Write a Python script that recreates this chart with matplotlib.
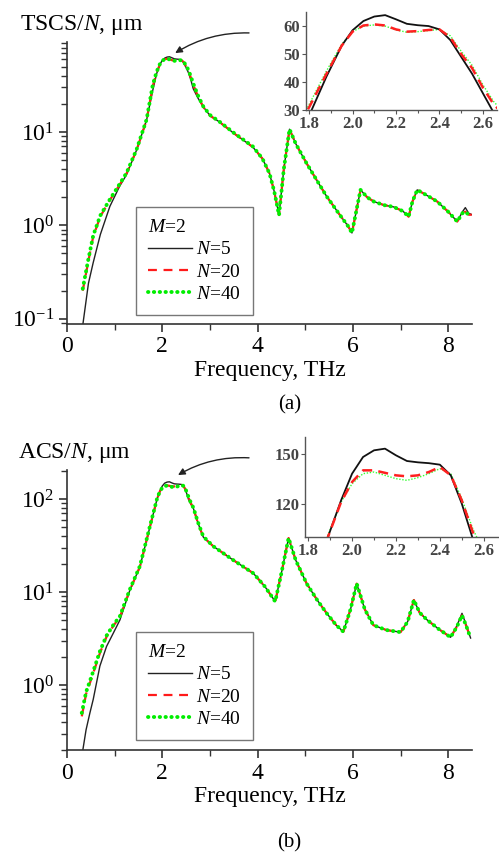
import matplotlib
matplotlib.use('Agg')
import matplotlib.pyplot as plt
from matplotlib.ticker import MultipleLocator, LogLocator, NullFormatter, FixedLocator

plt.rcParams['font.family'] = ['Liberation Serif', 'DejaVu Serif']
plt.rcParams['mathtext.fontset'] = 'custom'
plt.rcParams['mathtext.rm'] = 'Liberation Serif'
plt.rcParams['mathtext.it'] = 'Liberation Serif:italic'

# ---- panel (a): TSCS/N ----
freq_a = [0.33, 0.45, 0.55, 0.7, 0.9, 1.1, 1.25, 1.46, 1.67, 1.8, 1.88, 1.95, 2.0, 2.05,
          2.1, 2.15, 2.2, 2.25, 2.3, 2.35, 2.4, 2.45, 2.5, 2.55, 2.6, 2.65, 2.75, 2.86,
          3.0, 3.2, 3.5, 3.9, 4.1, 4.25, 4.35, 4.45, 4.55, 4.67, 4.8, 5.03, 5.25, 5.45,
          5.7, 5.9, 5.98, 6.08, 6.16, 6.3, 6.44, 6.65, 6.85, 7.05, 7.17, 7.25, 7.35,
          7.55, 7.77, 8.0, 8.19, 8.3, 8.36, 8.43, 8.5]
tscs_n5 = [0.085, 0.24, 0.40, 0.8, 1.6, 2.6, 3.5, 6.4, 13.4, 28, 42, 53, 58.5, 61.8,
           63.4, 63.9, 62.4, 60.8, 60.3, 60.0, 58.8, 55, 49, 43, 36, 29, 23, 18.6,
           15, 12.8, 9.7, 6.9, 5.2, 3.6, 2.3, 1.29, 4.0, 10.7, 7.5, 4.6, 3.0, 2.04,
           1.35, 0.98, 0.83, 1.5, 2.4, 2.0, 1.8, 1.65, 1.58, 1.42, 1.24, 1.8, 2.4,
           2.1, 1.8, 1.4, 1.1, 1.4, 1.55, 1.35, 1.3]
tscs_n20 = [0.20, 0.42, 0.76, 1.25, 1.87, 2.7, 3.6, 6.4, 13.4, 31, 43, 53, 58, 60.2,
            60.6, 60.2, 58.8, 58.0, 58.2, 58.6, 58.8, 56, 50, 45, 38, 32, 24, 18.6,
            15, 12.8, 9.7, 6.9, 5.2, 3.6, 2.3, 1.29, 4.0, 10.7, 7.5, 4.6, 3.0, 2.04,
            1.35, 0.98, 0.83, 1.5, 2.4, 2.0, 1.8, 1.65, 1.58, 1.42, 1.24, 1.8, 2.4,
            2.1, 1.8, 1.4, 1.1, 1.35, 1.4, 1.3, 1.3]
tscs_n40 = [0.21, 0.44, 0.78, 1.28, 1.9, 2.75, 3.65, 6.5, 13.6, 32, 44, 53.5, 58, 60.0,
            60.4, 60.0, 58.6, 57.8, 58.0, 58.4, 58.8, 56.5, 51, 46, 39, 33, 24.5, 18.8,
            15.2, 12.9, 9.8, 7.0, 5.2, 3.6, 2.3, 1.29, 4.0, 10.7, 7.5, 4.6, 3.0, 2.04,
            1.35, 0.98, 0.83, 1.5, 2.4, 2.0, 1.8, 1.65, 1.58, 1.42, 1.24, 1.8, 2.4,
            2.1, 1.8, 1.4, 1.1, 1.35, 1.4, 1.3, 1.3]

# ---- panel (b): ACS/N ----
freq_b = [0.31, 0.4, 0.48, 0.55, 0.69, 0.83, 0.97, 1.11, 1.32, 1.53, 1.74, 1.89, 1.95,
          2.0, 2.05, 2.1, 2.15, 2.2, 2.25, 2.3, 2.35, 2.4, 2.45, 2.5, 2.55, 2.6, 2.65,
          2.75, 2.86, 3.07, 3.49, 3.91, 4.15, 4.37, 4.5, 4.65, 4.8, 5.03, 5.25, 5.45,
          5.65, 5.8, 5.95, 6.08, 6.25, 6.43, 6.7, 7.0, 7.15, 7.28, 7.4, 7.56, 7.8,
          8.05, 8.18, 8.29, 8.38, 8.47]
acs_n5 = [0.17, 0.33, 0.5, 0.7, 1.6, 2.6, 3.6, 5.0, 10.5, 18.7, 50, 100, 122,
          138, 148, 152, 153, 149, 145.6, 144.8, 144.3, 143.4, 137, 120, 99, 88, 80,
          55, 39, 31, 22, 15.9, 11.5, 7.9, 16, 38, 22, 12.3, 8.2, 5.9,
          4.4, 3.74, 6.5, 12.3, 6.5, 4.4, 3.9, 3.7, 4.8, 8.2, 6.0, 5.0, 4.0,
          3.26, 4.3, 5.9, 4.4, 3.2]
acs_n20 = [0.46, 0.8, 1.05, 1.34, 2.2, 3.3, 4.3, 5.4, 10.5, 18.7, 50, 100, 121,
           133, 140, 140, 138.5, 137, 136.4, 137, 139, 142, 137, 122, 103, 90, 80,
           55, 39, 31, 22, 15.9, 11.5, 7.9, 16, 38, 22, 12.3, 8.2, 5.9,
           4.4, 3.74, 6.5, 12.3, 6.5, 4.4, 3.9, 3.7, 4.8, 8.2, 6.0, 5.0, 4.0,
           3.26, 4.2, 5.6, 4.3, 3.2]
acs_n40 = [0.5, 0.84, 1.1, 1.4, 2.3, 3.4, 4.4, 5.5, 10.7, 19, 51, 101, 121,
           132, 138, 139, 137, 135, 134, 135.6, 138, 141, 138, 123, 105, 91, 81,
           56, 39.5, 31, 22, 15.9, 11.5, 7.9, 16, 38, 22, 12.3, 8.2, 5.9,
           4.4, 3.74, 6.5, 12.3, 6.5, 4.4, 3.9, 3.7, 4.8, 8.2, 6.0, 5.0, 4.0,
           3.26, 4.2, 5.6, 4.3, 3.2]

labels = ['$N$=5', '$N$=20', '$N$=40']
AX_COLOR = '#333333'


def style_main(ax, ylim):
    ax.set_yscale('log')
    ax.set_xlim(0, 8.5)
    ax.set_ylim(*ylim)
    for s in ('top', 'right'):
        ax.spines[s].set_visible(False)
    for s in ('left', 'bottom'):
        ax.spines[s].set_color(AX_COLOR)
        ax.spines[s].set_linewidth(1.2)
    ax.xaxis.set_major_locator(MultipleLocator(2))
    ax.xaxis.set_minor_locator(MultipleLocator(1))
    ax.yaxis.set_major_locator(LogLocator(base=10, numticks=10))
    ax.yaxis.set_minor_locator(LogLocator(base=10, subs=range(2, 10), numticks=20))
    ax.yaxis.set_minor_formatter(NullFormatter())
    ax.tick_params(which='major', direction='out', length=6, width=1.2, color=AX_COLOR,
                   labelsize=17, pad=3)
    ax.tick_params(which='minor', direction='out', length=4, width=1.0, color=AX_COLOR)
    ax.set_xlabel('Frequency, THz', fontsize=17, labelpad=2)


def draw_curves(ax, x, y5, y20, y40, inset=False):
    if inset:
        ax.plot(x, y40, color='#33ff33', lw=1.0, ls=(0, (1, 1.2)))
        ax.plot(x, y5, color='#111111', lw=1.3)
        ax.plot(x, y20, color='#ff2020', lw=1.8, ls=(0, (4, 2.5)))
    else:
        ax.plot(x, y5, color='#222222', lw=1.0, label=labels[0])
        ax.plot(x, y20, color='#ff1a1a', lw=1.6, ls=(0, (4, 3)), label=labels[1])
        ax.plot(x, y40, color='#00ee00', lw=2.8, ls=(0, (0.1, 1.4)),
                dash_capstyle='round', label=labels[2])


def style_inset(ax, ylim, yticks):
    ax.set_xlim(1.785, 2.665)
    ax.set_ylim(*ylim)
    ax.patch.set_alpha(0)
    for s in ('top', 'right'):
        ax.spines[s].set_visible(False)
    for s in ('left', 'bottom'):
        ax.spines[s].set_color('#555555')
        ax.spines[s].set_linewidth(1.0)
    ax.xaxis.set_major_locator(FixedLocator([1.8, 2.0, 2.2, 2.4, 2.6]))
    ax.xaxis.set_minor_locator(FixedLocator([1.9, 2.1, 2.3, 2.5]))
    ax.yaxis.set_major_locator(FixedLocator(yticks))
    ax.xaxis.set_major_formatter(plt.FuncFormatter(lambda v, p: f'{v:.1f}'))
    ax.tick_params(which='major', direction='out', length=3, width=0.8, color='#555555',
                   labelsize=12, labelcolor='#444444', pad=1)
    ax.tick_params(which='minor', direction='out', length=2, width=0.8, color='#555555')
    for t in ax.get_xticklabels() + ax.get_yticklabels():
        t.set_fontweight('bold')


def add_legend(ax, anchor):
    leg = ax.legend(title='$M$=2', loc='lower left', bbox_to_anchor=anchor, fontsize=14,
                    title_fontsize=14, frameon=True, fancybox=False, edgecolor='#555555',
                    handlelength=2.3, handletextpad=0.2, labelspacing=0.25,
                    borderpad=0.6, borderaxespad=0, alignment='left')
    leg.get_frame().set_linewidth(1.0)


fig = plt.figure(figsize=(4.99, 8.55), dpi=100)

# panel (a)
ax_a = fig.add_axes([0.1343, 0.6211, 0.8116, 0.3298])
draw_curves(ax_a, freq_a, tscs_n5, tscs_n20, tscs_n40)
style_main(ax_a, (0.088, 92))
add_legend(ax_a, (0.17, 0.032))
ax_a.annotate('', xy=(2.27, 70), xytext=(3.82, 115), annotation_clip=False,
              arrowprops=dict(arrowstyle='-|>', color='#222222', lw=1.0, mutation_scale=10,
                              shrinkA=0, shrinkB=0, connectionstyle='arc3,rad=0.15'))
fig.text(0.040, 0.965, 'TSCS/$N$, μm', fontsize=17, va='baseline', ha='left')
fig.text(0.58, 0.526, '(a)', fontsize=15, ha='center', va='center')

ins_a = fig.add_axes([0.613, 0.8713, 0.383, 0.1146])
draw_curves(ins_a, freq_a, tscs_n5, tscs_n20, tscs_n40, inset=True)
style_inset(ins_a, (30, 65), [30, 40, 50, 60])

# panel (b)
ax_b = fig.add_axes([0.1343, 0.1228, 0.8116, 0.3275])
draw_curves(ax_b, freq_b, acs_n5, acs_n20, acs_n40)
style_main(ax_b, (0.2, 205))
add_legend(ax_b, (0.17, 0.036))
ax_b.annotate('', xy=(2.33, 181), xytext=(3.82, 277), annotation_clip=False,
              arrowprops=dict(arrowstyle='-|>', color='#222222', lw=1.0, mutation_scale=10,
                              shrinkA=0, shrinkB=0, connectionstyle='arc3,rad=0.15'))
fig.text(0.036, 0.4643, 'ACS/$N$, μm', fontsize=17, va='baseline', ha='left')
fig.text(0.58, 0.014, '(b)', fontsize=15, ha='center', va='center')

ins_b = fig.add_axes([0.611, 0.3719, 0.387, 0.117])
draw_curves(ins_b, freq_b, acs_n5, acs_n20, acs_n40, inset=True)
style_inset(ins_b, (100, 160), [120, 150])

fig.savefig('out.png', dpi=100)
